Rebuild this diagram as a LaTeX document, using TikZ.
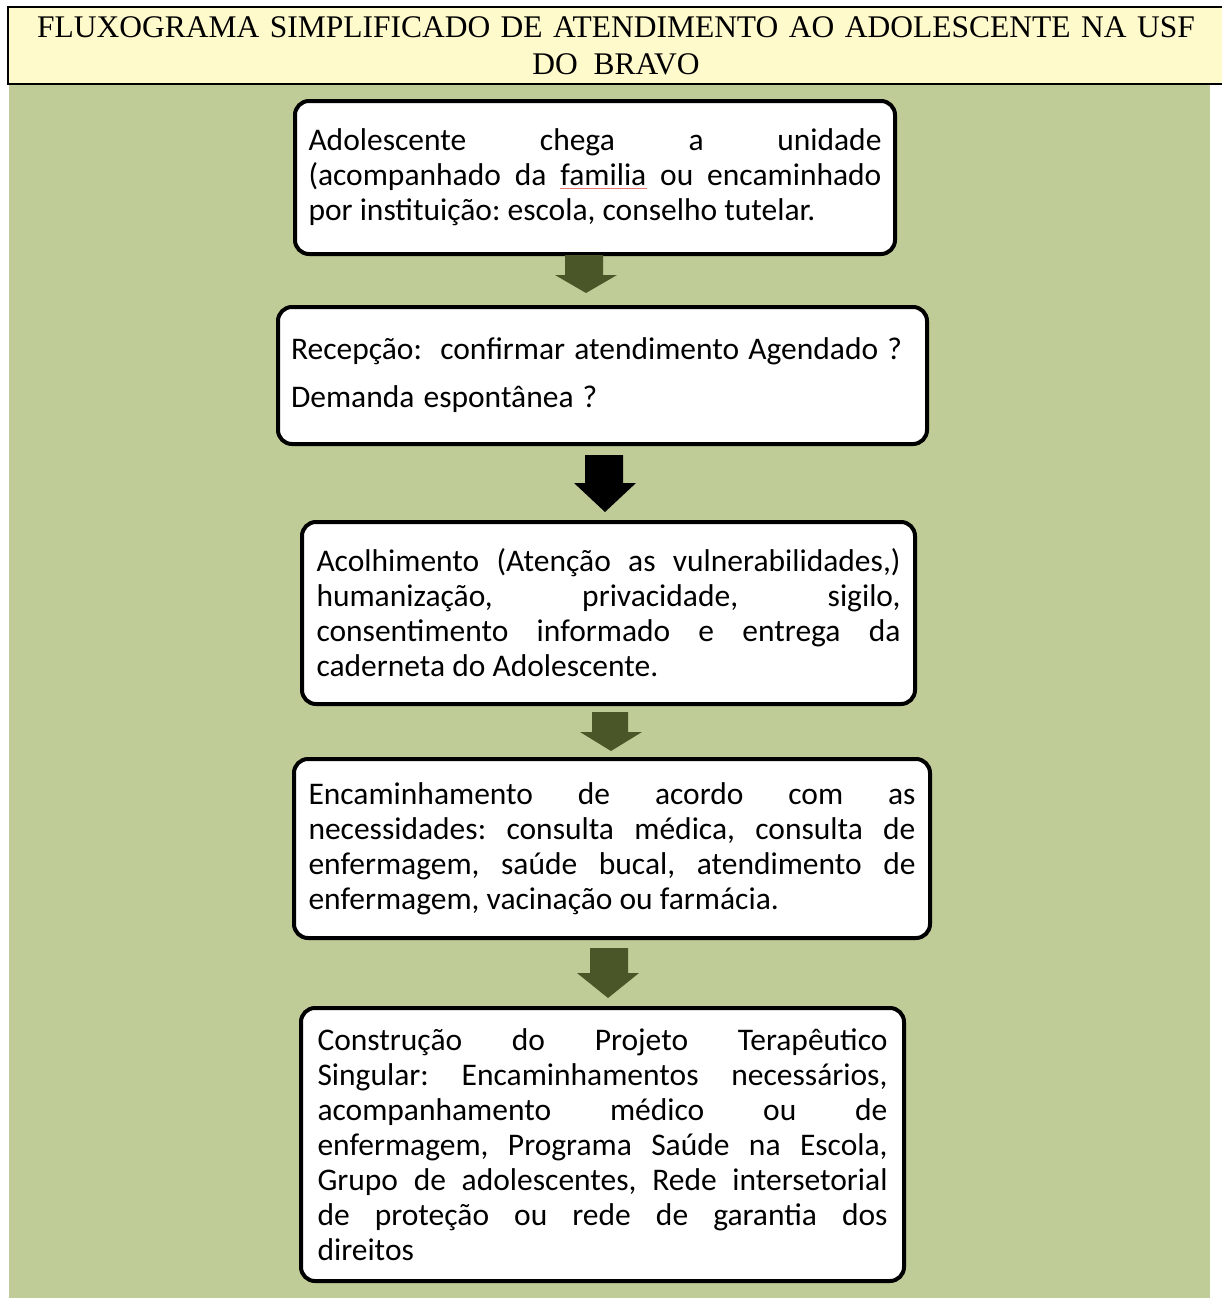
\documentclass[tikz,border=0pt]{standalone}
\usepackage{fontspec}
\setmainfont{Carlito}
\newfontfamily\hdrfont{Liberation Serif}
\usetikzlibrary{calc}
\definecolor{bggreen}{RGB}{192,204,152}
\definecolor{hdryellow}{RGB}{255,250,204}
\definecolor{arrowolive}{RGB}{74,86,40}
\definecolor{spellred}{RGB}{235,120,120}
\newlength\jwid
\newcommand{\natsp}{\spaceskip=0pt\xspaceskip=0pt\relax}
\newcommand{\jl}[1]{{\natsp\makebox[\jwid][s]{#1}}\\}
\frenchspacing
\begin{document}
\begin{tikzpicture}[x=1pt,y=-1pt,
  flowbox/.style={draw=black, line width=4pt, fill=white, rounded corners=14pt,
    inner sep=0pt, align=left, font=\fontsize{31.5}{35}\selectfont\frenchspacing},
  blockarr/.style={fill=arrowolive},
  ]
\useasboundingbox (0,0) rectangle (1222,1298);
\fill[bggreen] (9,84) rectangle (1210,1298);
\node[draw=black, line width=1.5pt, fill=hdryellow, minimum width=1216pt, minimum height=77pt,
  inner sep=0pt, text width=1200pt, align=center, font=\hdrfont\fontsize{31.5}{37}\selectfont]
  (hdr) at (616,45.5) {FLUXOGRAMA SIMPLIFICADO DE ATENDIMENTO AO ADOLESCENTE NA USF\\DO\hspace{0.5em}BRAVO};

\node[flowbox, minimum width=600pt, minimum height=153pt, text width=573pt] (b1) at (595,177.5)
  {\natsp\setlength\jwid{573pt}\jl{Adolescente chega a unidade}\jl{(acompanhado da familia ou encaminhado}por instituição: escola, conselho tutelar.};
\draw[spellred, line width=0.8pt] (560,188.5) -- (647,188.5);

\node[flowbox, minimum width=649pt, minimum height=137pt, text width=623pt] (b2) at (602.5,375.5)
  {\spaceskip=0.29em\relax Recepção:\ \ confirmar atendimento Agendado ?\\[13pt]Demanda espontânea ?};

\node[flowbox, minimum width=613pt, minimum height=182pt, text width=584pt] (b3) at (608.5,613)
  {\natsp\setlength\jwid{584pt}\jl{Acolhimento (Atenção as vulnerabilidades,)}\jl{humanização, privacidade, sigilo,}\jl{consentimento informado e entrega da}caderneta do Adolescente.};

\node[flowbox, minimum width=636pt, minimum height=179pt, text width=607pt] (b4) at (612,848.5)
  {\natsp\setlength\jwid{607pt}\jl{Encaminhamento de acordo com as}\jl{necessidades: consulta médica, consulta de}\jl{enfermagem, saúde bucal, atendimento de}enfermagem, vacinação ou farmácia.};

\node[flowbox, minimum width=603pt, minimum height=273pt, text width=570pt] (b5) at (602.5,1144.5)
  {\natsp\setlength\jwid{570pt}\jl{Construção do Projeto Terapêutico}\jl{Singular: Encaminhamentos necessários,}\jl{acompanhamento médico ou de}\jl{enfermagem, Programa Saúde na Escola,}\jl{Grupo de adolescentes, Rede intersetorial}\jl{de proteção ou rede de garantia dos}direitos};

% block arrows
\fill[blockarr] (565,255) -- (603,255) -- (603,275) -- (617,275) -- (586,293) -- (555,275) -- (565,275) -- cycle;
\fill[black] (585,455) -- (623,455) -- (623,483) -- (636,483) -- (605,512) -- (574,483) -- (585,483) -- cycle;
\fill[blockarr] (592,712) -- (628,712) -- (628,732) -- (642,732) -- (611,751) -- (580,732) -- (592,732) -- cycle;
\fill[blockarr] (590,948) -- (628,948) -- (628,973) -- (639,973) -- (608,998) -- (577,973) -- (590,973) -- cycle;
\end{tikzpicture}
\end{document}
